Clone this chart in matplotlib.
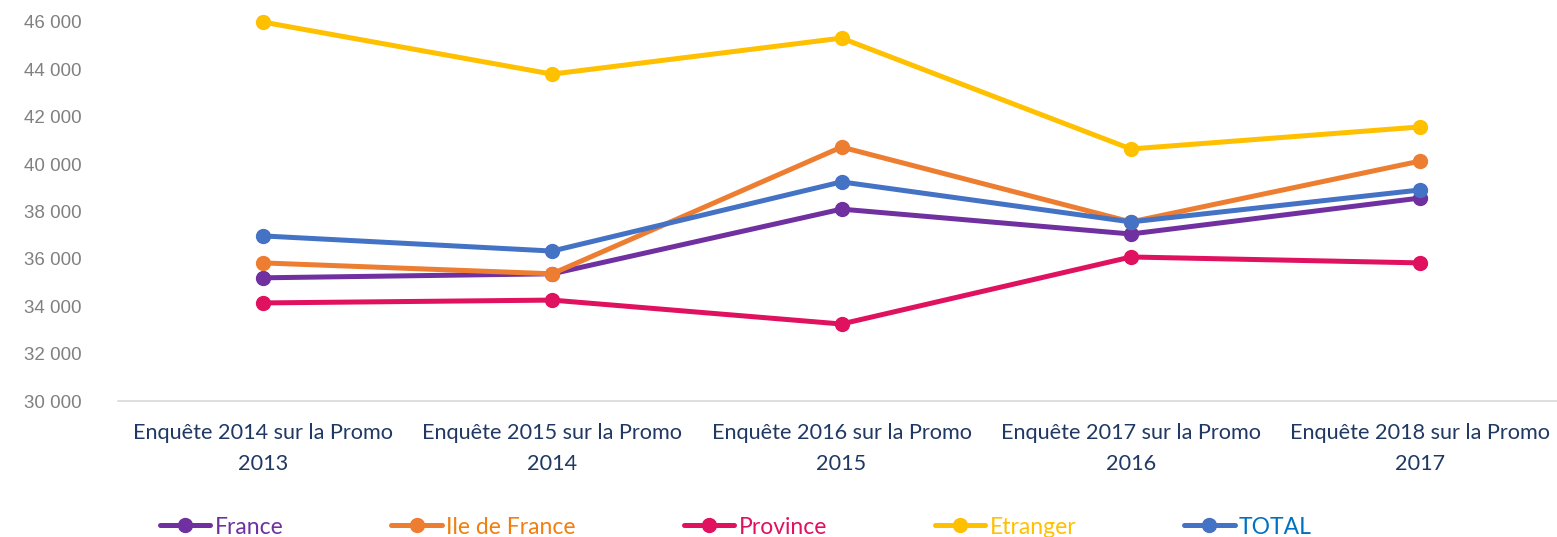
import numpy as np
import matplotlib
matplotlib.use("Agg")
import matplotlib.pyplot as plt
from matplotlib.ticker import FuncFormatter

# Data
categories = ["Enquête 2014 sur la Promo\n2013", "Enquête 2015 sur la Promo\n2014",
              "Enquête 2016 sur la Promo\n2015", "Enquête 2017 sur la Promo\n2016",
              "Enquête 2018 sur la Promo\n2017"]
france = [35200, 35370, 38100, 37050, 38570]
ile_de_france = [35830, 35370, 40720, 37560, 40130]
province = [34140, 34260, 33250, 36080, 35830]
etranger = [46000, 43800, 45320, 40640, 41570]
total = [36970, 36330, 39250, 37560, 38910]

names = ["France", "Ile de France", "Province", "Etranger", "TOTAL"]
series = [france, ile_de_france, province, etranger, total]
line_colors = ["#7030A0", "#ED7D31", "#E0115F", "#FFC000", "#4472C4"]
text_colors = ["#7030A0", "#F07F0F", "#E0115F", "#FFC000", "#0070C0"]

fig = plt.figure(figsize=(15.57, 5.37), dpi=100)
ax = fig.add_axes([118 / 1557, 1 - 401 / 537, 1447 / 1557, (401 - 22) / 537])

x = np.arange(len(categories))
handles = []
for vals, name, c in zip(series, names, line_colors):
    h, = ax.plot(x, vals, color=c, lw=3.6, marker="o", ms=10, label=name,
                 clip_on=False, solid_capstyle="round")
    handles.append(h)

ax.set_xlim(-0.5, 4.5)
ax.set_ylim(30000, 46000)
ax.set_yticks(np.arange(30000, 46001, 2000))
ax.yaxis.set_major_formatter(FuncFormatter(lambda v, p: f"{int(v):,}".replace(",", " ")))
ax.set_xticks(x)
ax.set_xticklabels(categories, fontsize=15.6, color="#1F3864", family=["Lato", "DejaVu Sans"],
                   linespacing=1.65)

for lab in ax.get_yticklabels():
    lab.set_family(["Liberation Sans", "DejaVu Sans"])
    lab.set_fontsize(13.5)
    lab.set_color("#808080")

ax.tick_params(axis="y", length=0, pad=26)
ax.tick_params(axis="x", length=0, pad=16)
for s in ["top", "right", "left"]:
    ax.spines[s].set_visible(False)
ax.spines["bottom"].set_color("#D9D9D9")
ax.spines["bottom"].set_linewidth(1.2)

leg = fig.legend(handles=handles, loc="center left", bbox_to_anchor=(160 / 1557, 1 - 527 / 537),
                 ncol=5, frameon=False, handlelength=2.2, handletextpad=0.2,
                 columnspacing=4.7, borderaxespad=0, borderpad=0,
                 prop={"family": ["Lato", "DejaVu Sans"], "size": 16.5})
for t, c in zip(leg.get_texts(), text_colors):
    t.set_color(c)

fig.savefig("out.png", dpi=100)
